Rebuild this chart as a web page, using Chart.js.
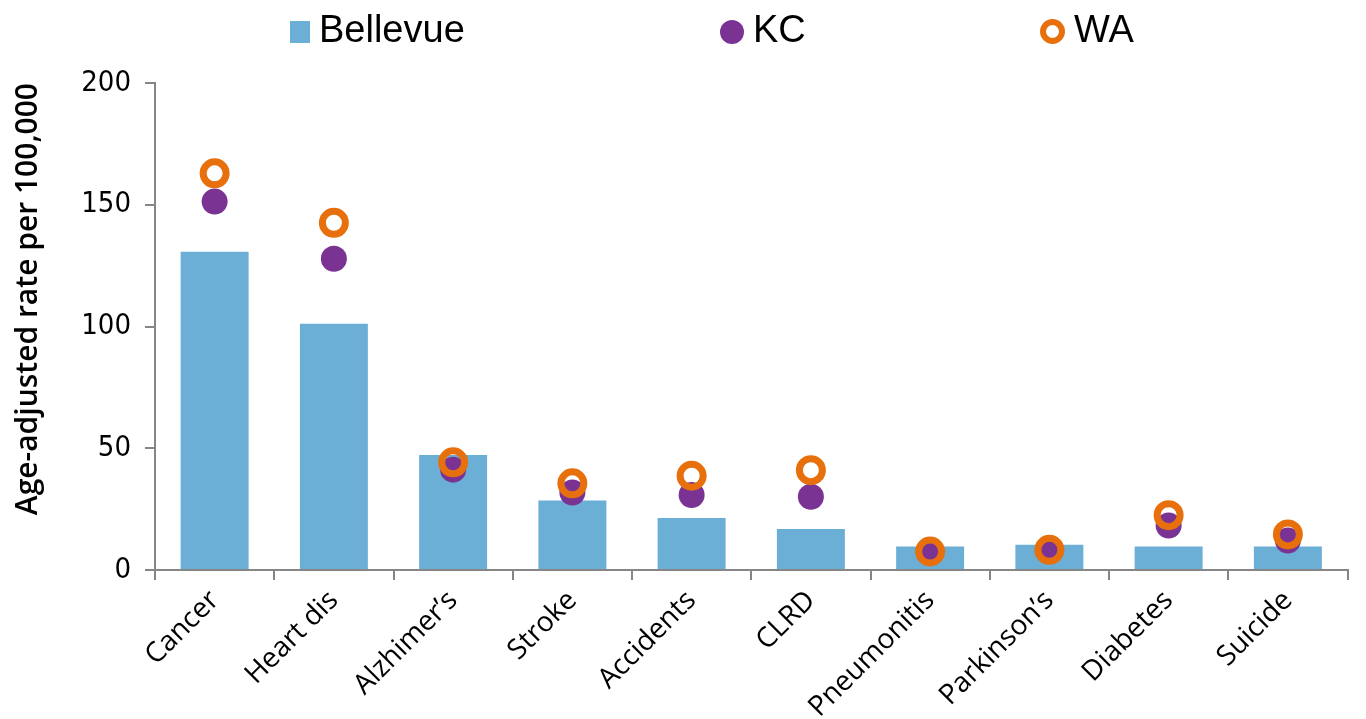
<!DOCTYPE html>
<html>
<head>
<meta charset="utf-8">
<script src="https://cdn.jsdelivr.net/npm/chart.js@4.4.1/dist/chart.umd.min.js"></script>
<style>
  html, body { margin: 0; padding: 0; background: #fff; }
  #wrap { position: relative; width: 1366px; height: 719px; }
  #legend { position: absolute; left: 0; top: 0; width: 1366px; height: 60px;
            font-family: 'Liberation Sans', Arial, sans-serif; font-size: 38px; color: #000; }
  .item { position: absolute; top: 8px; height: 42px; line-height: 42px; white-space: nowrap; }
  .sw { display: inline-block; vertical-align: middle; margin-right: 9px; box-sizing: border-box; }
</style>
</head>
<body>
<div id="wrap">
  <canvas id="myChart" width="1366" height="719"></canvas>
  <div id="legend"></div>
</div>
<script>
'use strict';

// カテゴリ（死因）
var categories = ['Cancer', 'Heart dis', 'Alzhimer\u2019s', 'Stroke', 'Accidents', 'CLRD',
  'Pneumonitis', 'Parkinson\u2019s', 'Diabetes', 'Suicide'];

// 各系列の値
var bellevue = [130.7, 101.1, 47.2, 28.5, 21.4, 16.8, 9.7, 10.4, 9.7, 9.7];
var kc = [151.3, 127.8, 41.2, 31.8, 30.8, 30.1, 7.5, 8.3, 18.3, 12.1];
var wa = [162.9, 142.6, 44.2, 35.6, 38.7, 41.0, 7.6, 8.3, 22.5, 14.6];

// Y軸の目盛り
var yTicks = [0, 50, 100, 150, 200];

var blue = '#6baed6';
var purple = '#7a3393';
var orange = '#e8700c';
var axisGrey = '#868686';

var ctx = document.getElementById('myChart');

var myChart = new Chart(ctx, {
  type: 'bar',
  data: {
    labels: categories,
    datasets: [{
      label: 'Bellevue',
      data: bellevue,
      backgroundColor: blue,
      barPercentage: 0.57,
      categoryPercentage: 1,
      order: 3
    }, {
      label: 'KC',
      type: 'line',
      data: kc,
      showLine: false,
      pointRadius: 13,
      pointBorderWidth: 0,
      pointBackgroundColor: purple,
      pointBorderColor: purple,
      order: 2
    }, {
      label: 'WA',
      type: 'line',
      data: wa,
      showLine: false,
      pointRadius: 11.5,
      pointBorderWidth: 7,
      pointBackgroundColor: 'rgba(0,0,0,0)',
      pointBorderColor: orange,
      order: 1
    }]
  },
  options: {
    responsive: false,
    animation: false,
    layout: { padding: { top: 83, right: 9, left: 0, bottom: 0 } },
    plugins: {
      legend: { display: false },
      tooltip: { enabled: false }
    },
    scales: {
      x: {
        afterFit: function (scale) { scale.height = 149; },
        grid: { display: true, drawOnChartArea: false, drawTicks: true, tickLength: 10,
                color: axisGrey, lineWidth: 2, offset: true },
        border: { display: true, color: axisGrey, width: 2 },
        ticks: {
          color: '#000', maxRotation: 45, minRotation: 45, padding: 4,
          font: { family: "'Open Sans', sans-serif", size: 28 }
        }
      },
      y: {
        min: 0,
        max: 200,
        afterFit: function (scale) { scale.width = 155; },
        afterBuildTicks: function (scale) {
          scale.ticks = yTicks.map(function (v) { return { value: v }; });
        },
        grid: { drawOnChartArea: false, drawTicks: true, tickLength: 10, color: axisGrey, lineWidth: 2 },
        border: { display: true, color: axisGrey, width: 2 },
        ticks: {
          color: '#000', padding: 14,
          font: { family: "'Liberation Sans Narrow', 'DejaVu Sans Condensed', sans-serif", size: 29 }
        },
        title: {
          display: true,
          align: 'end',
          text: 'Age-adjusted rate per 100,000',
          color: '#000',
          padding: { top: 10, bottom: 0 },
          font: { family: "'Open Sans', sans-serif", size: 30, weight: '600' }
        }
      }
    }
  }
});

// 凡例（HTML）
var legendPos = [290, 720, 1040];
var legendEl = document.getElementById('legend');
myChart.data.datasets.forEach(function (ds, i) {
  var item = document.createElement('div');
  item.className = 'item';
  item.style.left = legendPos[i] + 'px';
  var sw = document.createElement('span');
  sw.className = 'sw';
  if (i === 0) {
    sw.style.width = '20px'; sw.style.height = '22px'; sw.style.background = ds.backgroundColor;
  } else if (i === 1) {
    sw.style.width = '24px'; sw.style.height = '24px'; sw.style.borderRadius = '50%';
    sw.style.background = ds.pointBackgroundColor;
  } else {
    sw.style.width = '25px'; sw.style.height = '25px'; sw.style.borderRadius = '50%';
    sw.style.border = '6px solid ' + ds.pointBorderColor;
  }
  item.appendChild(sw);
  item.appendChild(document.createTextNode(ds.label));
  legendEl.appendChild(item);
});
</script>
</body>
</html>
